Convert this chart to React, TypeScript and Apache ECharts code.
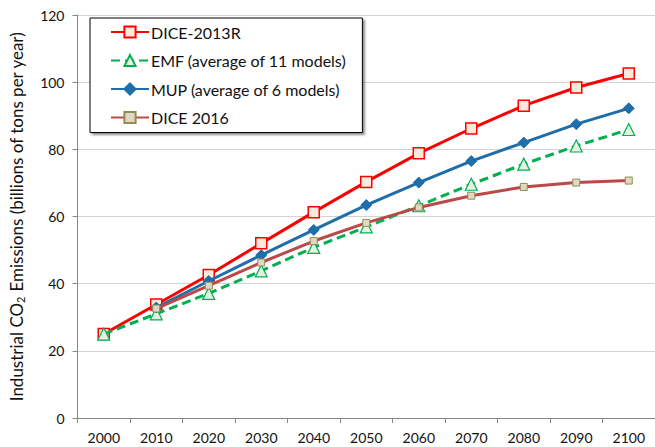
import React, { useEffect, useRef } from "react";
import * as echarts from "echarts";

const years = ["2000", "2010", "2020", "2030", "2040", "2050", "2060", "2070", "2080", "2090", "2100"];
const dice2013R = [25.0, 33.8, 42.6, 52.0, 61.3, 70.3, 78.8, 86.2, 93.0, 98.4, 102.6];
const emf = [25.0, 31.0, 37.1, 43.8, 50.8, 56.9, 63.2, 69.6, 75.6, 81.0, 85.9];
const mup = [null, 32.9, 40.8, 48.5, 56.0, 63.4, 70.1, 76.5, 82.0, 87.5, 92.2];
const dice2016 = [null, 32.6, 39.4, 46.3, 52.7, 58.1, 62.7, 66.2, 68.8, 70.1, 70.7];
const yTicks = { min: 0, max: 120, interval: 20 };

const FONT = "Lato";

export default function App() {
  const ref = useRef<HTMLDivElement>(null);
  useEffect(() => {
    if (!ref.current) return;
    const chart = echarts.init(ref.current, undefined, { renderer: "svg" });
    chart.setOption({
      animation: false,
      backgroundColor: "#ffffff",
      textStyle: { fontFamily: FONT },
      grid: { left: 77, top: 15, width: 581, height: 403 },
      legend: {
        orient: "vertical",
        left: 90,
        top: 18,
        itemWidth: 38,
        itemHeight: 14,
        itemGap: 12.5,
        padding: [6, 16, 7, 20],
        backgroundColor: "#ffffff",
        borderColor: "#000000",
        borderWidth: 1,
        shadowColor: "rgba(0,0,0,0.45)",
        shadowBlur: 2,
        shadowOffsetX: 2,
        shadowOffsetY: 2,
        textStyle: { fontFamily: FONT, fontSize: 16, color: "#111", padding: [0, 0, 0, -3] },
        data: ["DICE-2013R", "EMF (average of 11 models)", "MUP (average of 6 models)", "DICE 2016"],
      },
      xAxis: {
        type: "category",
        data: years,
        boundaryGap: true,
        axisLine: { lineStyle: { color: "#868686", width: 1 } },
        axisTick: { show: true, length: 5, lineStyle: { color: "#868686" } },
        axisLabel: { color: "#111", fontSize: 14, margin: 12, fontFamily: FONT },
        splitLine: { show: false },
      },
      yAxis: {
        type: "value",
        min: yTicks.min,
        max: yTicks.max,
        interval: yTicks.interval,
        axisLine: { show: true, lineStyle: { color: "#868686", width: 1 } },
        axisTick: { show: true, length: 5, lineStyle: { color: "#868686" } },
        axisLabel: { color: "#111", fontSize: 14, margin: 13, fontFamily: FONT },
        splitLine: { show: true, lineStyle: { color: "#a6a6a6", type: "dotted", width: 1 } },
        name: "{a|Industrial CO}{s|2}{a| Emissions (billions of tons per year)}",
        nameLocation: "middle",
        nameGap: 52,
        nameRotate: 90,
        nameTextStyle: {
          rich: {
            a: { fontFamily: FONT, fontSize: 17, color: "#111" },
            s: { fontFamily: FONT, fontSize: 11, color: "#111", padding: [7, 0, 0, 0] },
          },
        },
      },
      series: [
        {
          name: "DICE-2013R",
          type: "line",
          data: dice2013R,
          symbol: "rect",
          symbolSize: 11,
          showAllSymbol: true,
          lineStyle: { color: "#ff0000", width: 3 },
          itemStyle: { color: "#fde9d9", borderColor: "#ff0000", borderWidth: 1.5 },
          z: 2,
        },
        {
          name: "EMF (average of 11 models)",
          type: "line",
          data: emf,
          symbol: "triangle",
          symbolSize: 12,
          showAllSymbol: true,
          lineStyle: { color: "#00b050", width: 3, type: [9, 5] },
          itemStyle: { color: "#e2f3e2", borderColor: "#00b050", borderWidth: 1.2 },
          z: 3,
        },
        {
          name: "MUP (average of 6 models)",
          type: "line",
          data: mup,
          symbol: "diamond",
          symbolSize: 11,
          showAllSymbol: true,
          lineStyle: { color: "#1f6eaa", width: 3 },
          itemStyle: { color: "#1f6eaa", borderColor: "#1f6eaa", borderWidth: 1 },
          z: 4,
        },
        {
          name: "DICE 2016",
          type: "line",
          data: dice2016,
          symbol: "rect",
          symbolSize: 7,
          showAllSymbol: true,
          lineStyle: { color: "#b94a48", width: 3 },
          itemStyle: { color: "#ddd9c3", borderColor: "#948a54", borderWidth: 1 },
          z: 5,
        },
      ],
    });
    return () => chart.dispose();
  }, []);
  return <div ref={ref} style={{ width: 655, height: 447, position: "absolute", left: 0, top: 0 }} />;
}
